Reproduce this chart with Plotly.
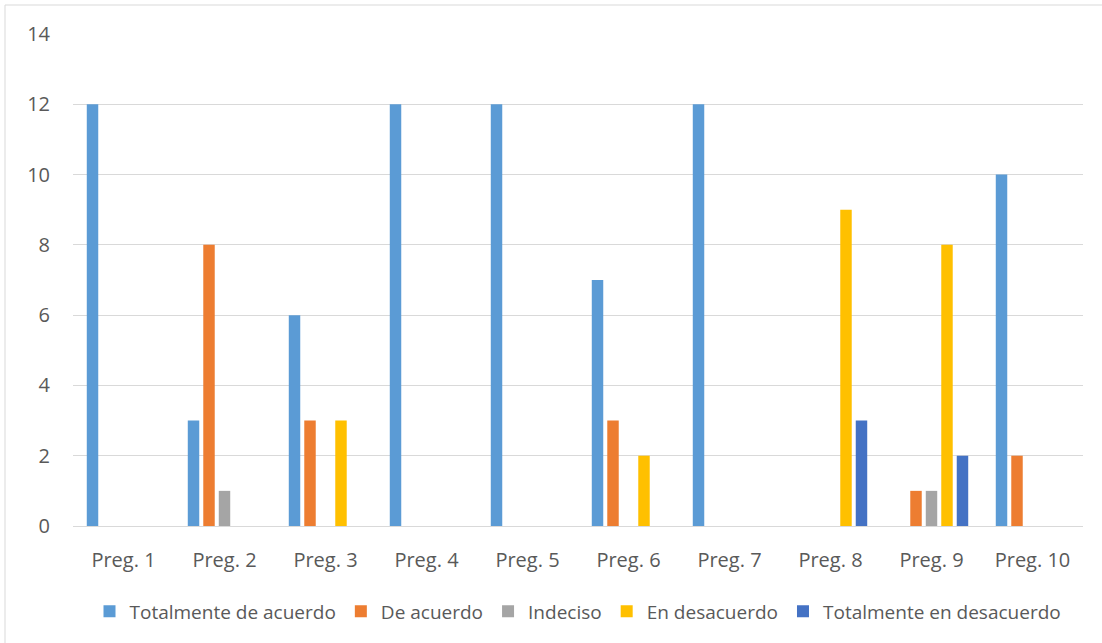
import plotly.graph_objects as go

# Survey answers per question
preguntas = ["Preg. 1", "Preg. 2", "Preg. 3", "Preg. 4", "Preg. 5",
             "Preg. 6", "Preg. 7", "Preg. 8", "Preg. 9", "Preg. 10"]

totalmente_de_acuerdo = [12, 3, 6, 12, 12, 7, 12, 0, 0, 10]
de_acuerdo = [0, 8, 3, 0, 0, 3, 0, 0, 1, 2]
indeciso = [0, 1, 0, 0, 0, 0, 0, 0, 1, 0]
en_desacuerdo = [0, 0, 3, 0, 0, 2, 0, 9, 8, 0]
totalmente_en_desacuerdo = [0, 0, 0, 0, 0, 0, 0, 3, 2, 0]

y_ticks = [0, 2, 4, 6, 8, 10, 12, 14]

series = [
    ("Totalmente de acuerdo", totalmente_de_acuerdo, "#5B9BD5"),
    ("De acuerdo", de_acuerdo, "#ED7D31"),
    ("Indeciso", indeciso, "#A5A5A5"),
    ("En desacuerdo", en_desacuerdo, "#FFC000"),
    ("Totalmente en desacuerdo", totalmente_en_desacuerdo, "#4472C4"),
]

FONT = "Open Sans"
TXT = "#595959"

fig = go.Figure()
for name, vals, color in series:
    fig.add_trace(go.Bar(x=preguntas, y=vals, name=name,
                         marker=dict(color=color, line=dict(width=0))))

W, H = 1102, 643
L, R, T, B = 73, 19, 34, 117
pw, ph = W - L - R, H - T - B


def px_x(p):
    return (p - L) / pw


def px_y(p):
    return (H - B - p) / ph


fig.update_layout(
    width=W, height=H,
    margin=dict(l=L, r=R, t=T, b=B),
    paper_bgcolor="white", plot_bgcolor="white",
    barmode="group", bargap=0.233, bargroupgap=0.26,
    font=dict(family=FONT, size=20, color=TXT),
    showlegend=True,
    legend=dict(orientation="h", x=0.5, xanchor="center", y=-0.135, yanchor="top",
                font=dict(family=FONT, size=19, color=TXT),
                itemwidth=30, tracegroupgap=0, traceorder="normal"),
    xaxis=dict(showgrid=False, showline=True, linecolor="#D9D9D9", linewidth=1,
               ticks="", tickfont=dict(family=FONT, size=20, color=TXT),
               ticklabelstandoff=16),
    yaxis=dict(range=[0, 14], tickvals=y_ticks, showgrid=True, gridcolor="#D9D9D9",
               gridwidth=1, zeroline=False, showline=False, ticks="",
               tickfont=dict(family=FONT, size=20, color=TXT),
               ticklabelstandoff=22),
    shapes=[dict(type="rect", xref="paper", yref="paper",
                 x0=px_x(5), x1=px_x(1115), y0=px_y(660), y1=px_y(5),
                 line=dict(color="#D9D9D9", width=1), layer="below")],
)

fig.write_html("out.html")
